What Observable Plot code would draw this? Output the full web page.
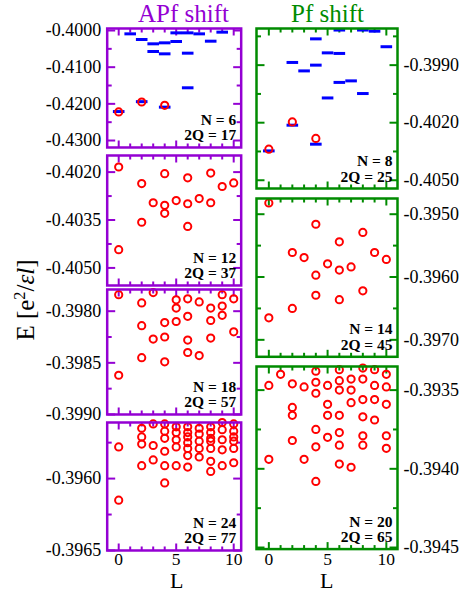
<!DOCTYPE html>
<html><head><meta charset="utf-8">
<script src="https://cdn.jsdelivr.net/npm/d3@7"></script>
<script src="https://cdn.jsdelivr.net/npm/@observablehq/plot@0.6"></script>
<style>
body{margin:0;background:#fff;}
#chart{position:relative;width:463px;height:593px;overflow:hidden;font-family:"Liberation Serif","Times New Roman",serif;}
.lbl{position:absolute;white-space:nowrap;line-height:1;font-family:"Liberation Serif","Times New Roman",serif;}
</style></head><body><div id="chart"></div>
<script>
// ---------- data: [L, E] ----------
const apfN6Circles = [[0,-0.4222],[2,-0.4195],[4,-0.4204]];
const apfN6Levels = [[0,-0.4221],[1,-0.40091],[2,-0.40245],[2,-0.4194],[3,-0.40363],[3,-0.40572],[4,-0.40336],[4,-0.40636],[4,-0.4209],[5,-0.40064],[5,-0.40300],[6,-0.40064],[6,-0.40618],[6,-0.41562],[7,-0.40091],[8,-0.40291],[9,-0.40045]];
const apfN12Circles = [[0,-0.40184],[0,-0.40443],[2,-0.40236],[2,-0.40357],[3,-0.40296],[4,-0.40205],[4,-0.40304],[4,-0.40329],[5,-0.40289],[6,-0.40218],[6,-0.40299],[6,-0.40370],[7,-0.40283],[8,-0.40203],[8,-0.40296],[9,-0.40245],[10,-0.40234]];
const apfN18Circles = [[0,-0.39784],[0,-0.39862],[2,-0.39792],[2,-0.39814],[2,-0.39845],[3,-0.39782],[3,-0.39827],[4,-0.39811],[4,-0.39825],[4,-0.39849],[5,-0.39789],[5,-0.39797],[5,-0.39810],[6,-0.39788],[6,-0.39805],[6,-0.39828],[6,-0.39840],[7,-0.39791],[7,-0.39843],[8,-0.39797],[8,-0.39809],[8,-0.39826],[9,-0.39784],[9,-0.39795],[9,-0.39804],[10,-0.39788],[10,-0.39820]];
const apfN24Circles = [[0,-0.39578],[0,-0.39615],[2,-0.39565],[2,-0.39571],[2,-0.39576],[2,-0.39591],[3,-0.39562],[3,-0.39577],[3,-0.39587],[4,-0.39562],[4,-0.39567],[4,-0.39572],[4,-0.39581],[4,-0.39591],[4,-0.39603],[5,-0.39564],[5,-0.39568],[5,-0.39573],[5,-0.39578],[5,-0.39591],[6,-0.39564],[6,-0.39568],[6,-0.39571],[6,-0.39575],[6,-0.39579],[6,-0.39584],[6,-0.39592],[7,-0.39565],[7,-0.39569],[7,-0.39574],[7,-0.39579],[7,-0.39585],[8,-0.39564],[8,-0.39568],[8,-0.39572],[8,-0.39574],[8,-0.39579],[8,-0.39588],[8,-0.39595],[9,-0.39561],[9,-0.39566],[9,-0.39573],[9,-0.39580],[9,-0.39591],[10,-0.39562],[10,-0.39567],[10,-0.39571],[10,-0.39574],[10,-0.39579],[10,-0.39589]];
const pfN8Circles = [[0,-0.40338],[2,-0.40196],[4,-0.40282]];
const pfN8Levels = [[0,-0.40347],[2,-0.40213],[2,-0.39886],[3,-0.39930],[4,-0.40312],[4,-0.39763],[4,-0.39900],[5,-0.39836],[5,-0.40071],[6,-0.39717],[6,-0.39839],[6,-0.39990],[7,-0.39982],[8,-0.39717],[8,-0.40048],[9,-0.39723],[10,-0.39804]];
const pfN14Circles = [[0,-0.39482],[0,-0.39665],[2,-0.39561],[2,-0.39650],[3,-0.39569],[4,-0.39516],[4,-0.39597],[4,-0.39629],[5,-0.39579],[6,-0.39544],[6,-0.39589],[6,-0.39636],[7,-0.39584],[8,-0.39529],[8,-0.39622],[9,-0.39561],[10,-0.39572]];
const pfN20Circles = [[0,-0.39347],[0,-0.39394],[1,-0.39340],[2,-0.39346],[2,-0.39361],[2,-0.39366],[2,-0.39382],[3,-0.39348],[3,-0.39394],[4,-0.39338],[4,-0.39345],[4,-0.39352],[4,-0.39375],[4,-0.39386],[4,-0.39408],[5,-0.39347],[5,-0.39359],[5,-0.39366],[5,-0.39380],[6,-0.39337],[6,-0.39344],[6,-0.39350],[6,-0.39366],[6,-0.39377],[6,-0.39385],[6,-0.39397],[7,-0.39343],[7,-0.39350],[7,-0.39358],[7,-0.39399],[8,-0.39336],[8,-0.39343],[8,-0.39356],[8,-0.39367],[8,-0.39379],[8,-0.39385],[9,-0.39337],[9,-0.39347],[9,-0.39356],[9,-0.39369],[10,-0.39340],[10,-0.39348],[10,-0.39359],[10,-0.39379],[10,-0.39387]];

// ---------- tick values ----------
const apfN6Ticks = [-0.4000,-0.4100,-0.4200,-0.4300];
const apfN6Minor = [-0.4050,-0.4150,-0.4250];
const apfN12Ticks = [-0.4020,-0.4035,-0.4050];
const apfN12Minor = [-0.40275,-0.40425];
const apfN18Ticks = [-0.3980,-0.3985,-0.3990];
const apfN18Minor = [-0.39825,-0.39875];
const apfN24Ticks = [-0.3960,-0.3965];
const apfN24Minor = [-0.39575,-0.39625];
const pfN8Ticks = [-0.3990,-0.4020,-0.4050];
const pfN8Minor = [-0.3975,-0.4005,-0.4035];
const pfN14Ticks = [-0.3950,-0.3960,-0.3970];
const pfN14Minor = [-0.3955,-0.3965];
const pfN20Ticks = [-0.3935,-0.3940,-0.3945];
const pfN20Minor = [-0.39375,-0.39425];
const lMajor = [0,5,10];
const lMinor = [1,2,3,4,6,7,8,9];
const lLabels = [0,5,10];

const PURPLE = "#9400d3", GREEN = "#008b00", RED = "#ff0000", BLUE = "#0000ff";

const fmt = d => d.toFixed(4);
const seg = (dx, dy) => ({draw(ctx){ ctx.moveTo(0,0); ctx.lineTo(dx,dy); }});
const dashSym = {draw(ctx){ ctx.rect(-5.8,-1.5,11.6,3); }};

const chart = document.getElementById("chart");
const XFS = 17.5;          // x tick label size
const XBASE = 564.5;       // x tick label baseline

function panel(p){
  const left = p.side === "left";
  const mt = 3, mb = p.bottom ? 28 : 3;
  const ml = left ? p.x0 : 6;
  const mr = left ? 5 : 463 - p.x1;
  const w = p.x1 - p.x0, h = p.y1 - p.y0;
  const svgLeft = p.x0 - ml;
  const tk = {fill:"none", stroke:p.color, strokeWidth:2};
  const marks = [
    Plot.dot(p.ticks, {y:d=>d, frameAnchor:"left", symbol:seg(8,0), ...tk}),
    Plot.dot(p.ticks, {y:d=>d, frameAnchor:"right", symbol:seg(-8,0), ...tk}),
    Plot.dot(p.minor, {y:d=>d, frameAnchor:"left", symbol:seg(4.5,0), ...tk}),
    Plot.dot(p.minor, {y:d=>d, frameAnchor:"right", symbol:seg(-4.5,0), ...tk}),
    Plot.dot(lMajor, {x:d=>d, frameAnchor:"bottom", symbol:seg(0,-7), ...tk}),
    Plot.dot(lMajor, {x:d=>d, frameAnchor:"top", symbol:seg(0,7), ...tk}),
    Plot.dot(lMinor, {x:d=>d, frameAnchor:"bottom", symbol:seg(0,-4), ...tk}),
    Plot.dot(lMinor, {x:d=>d, frameAnchor:"top", symbol:seg(0,4), ...tk}),
    Plot.axisY({anchor: left ? "left" : "right", ticks: p.ticks, tickSize:0, tickPadding:6, tickFormat: fmt, label:null, fontSize:18}),
  ];
  if (p.levels) marks.push(Plot.dot(p.levels, {x:d=>d[0], y:d=>d[1], symbol:dashSym, fill:BLUE, stroke:"none"}));
  marks.push(Plot.dot(p.circles, {x:d=>d[0], y:d=>d[1], r:3.6, fill:"none", stroke:RED, strokeWidth:2}));
  marks.push(Plot.text([p.note], {text:d=>d, frameAnchor:"bottom-right", textAnchor:"end", lineAnchor:"bottom", dx:-5, dy:-7, fontWeight:"bold", fontSize:15.5, lineHeight:1.0, fill:"#000"}));
  marks.push(Plot.frame({stroke:p.color, strokeWidth:2.5}));
  if (p.bottom) marks.push(Plot.axisX({anchor:"bottom", ticks:lLabels, tickSize:0, tickPadding: XBASE - 0.71*XFS - p.y1, tickFormat:d=>String(d), label:null, fontSize:XFS}));
  const svg = Plot.plot({
    width: ml + w + mr, height: mt + h + mb,
    marginTop: mt, marginBottom: mb, marginLeft: ml, marginRight: mr,
    x: p.bottom ? {domain: p.xd} : {domain: p.xd, axis: null},
    y: {domain: p.yd},
    style: {position:"absolute", left: svgLeft + "px", top: (p.y0 - mt) + "px", background:"transparent", overflow:"visible", maxWidth:"none", fontFamily:'"Liberation Serif","Times New Roman",serif', fontSize:"18px", color:"#000"},
    marks
  });
  chart.appendChild(svg);
}

const LX = [106.7, 240.7], RX = [255.5, 396.5];
const LXD = [-1, 10.65], RXD = [-1.05, 10.95];
panel({side:"left", x0:LX[0], x1:LX[1], xd:LXD, y0:28, y1:147, yd:[-0.4319,-0.39945], ticks:apfN6Ticks, minor:apfN6Minor, circles:apfN6Circles, levels:apfN6Levels, color:PURPLE, note:"N = 6\n2Q = 17"});
panel({side:"left", x0:LX[0], x1:LX[1], xd:LXD, y0:155, y1:285, yd:[-0.40555,-0.40148], ticks:apfN12Ticks, minor:apfN12Minor, circles:apfN12Circles, color:PURPLE, note:"N = 12\n2Q = 37"});
panel({side:"left", x0:LX[0], x1:LX[1], xd:LXD, y0:288.5, y1:413.5, yd:[-0.3990,-0.39779], ticks:apfN18Ticks, minor:apfN18Minor, circles:apfN18Circles, color:PURPLE, note:"N = 18\n2Q = 57"});
panel({side:"left", x0:LX[0], x1:LX[1], xd:LXD, y0:422, y1:550, yd:[-0.3965,-0.39561], ticks:apfN24Ticks, minor:apfN24Minor, circles:apfN24Circles, color:PURPLE, note:"N = 24\n2Q = 77", bottom:true});
panel({side:"right", x0:RX[0], x1:RX[1], xd:RXD, y0:28.3, y1:188.3, yd:[-0.40543,-0.39709], ticks:pfN8Ticks, minor:pfN8Minor, circles:pfN8Circles, levels:pfN8Levels, color:GREEN, note:"N = 8\n2Q = 25"});
panel({side:"right", x0:RX[0], x1:RX[1], xd:RXD, y0:197.7, y1:356, yd:[-0.39727,-0.39475], ticks:pfN14Ticks, minor:pfN14Minor, circles:pfN14Circles, color:GREEN, note:"N = 14\n2Q = 45"});
panel({side:"right", x0:RX[0], x1:RX[1], xd:RXD, y0:365.7, y1:548.3, yd:[-0.39451,-0.39335], ticks:pfN20Ticks, minor:pfN20Minor, circles:pfN20Circles, color:GREEN, note:"N = 20\n2Q = 65", bottom:true});

function label(html, x, top, opts = {}){
  const d = document.createElement("div");
  d.className = "lbl";
  d.innerHTML = html;
  d.style.left = x + "px";
  d.style.top = top + "px";
  d.style.fontSize = (opts.size || 25) + "px";
  if (opts.lineHeight) d.style.lineHeight = opts.lineHeight;
  d.style.color = opts.color || "#000";
  d.style.transform = opts.transform || "translateX(-50%)";
  chart.appendChild(d);
}
label("APf shift", 183.5, 1, {color: PURPLE});
label("Pf shift", 327.5, 1, {color: GREEN});
label("L", 176.7, 569.6, {size: 22});
label("L", 326.7, 569.6, {size: 22});
label('E [e<sup style="font-size:0.65em;vertical-align:0.55em;line-height:0">2</sup>/<i>εl</i>]', 25, 300, {transform:"translate(-50%,-50%) rotate(-90deg)"});
</script></body></html>
